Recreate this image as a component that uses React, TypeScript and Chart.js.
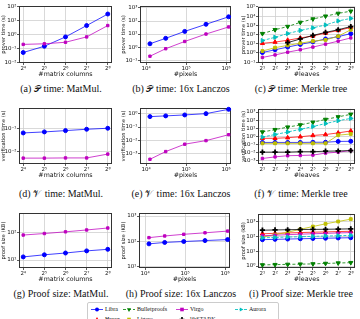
import React, { useEffect, useRef } from "react";
import { Chart, registerables } from "chart.js";
Chart.register(...registerables);

// ---------- categories / x values ----------
const matrixColumns = [16, 32, 64, 128, 256];
const lanczosPixels = [12544, 30976, 92416, 313600, 1149184];
const merkleLeaves = [2, 4, 8, 16, 32, 64, 128, 256];
const pixelTicks = [1e4, 1e5, 1e6];

// ---------- (a) prover time: MatMul ----------
const proverMatLibra = [0.05, 0.14, 0.65, 4.2, 28];
const proverMatVirgo = [0.19, 0.21, 0.27, 0.65, 4.2];
// ---------- (b) prover time: Lanczos ----------
const proverLanLibra = [1.8, 4.7, 16, 56, 210];
const proverLanVirgo = [0.2, 0.75, 2.7, 10, 35];
// ---------- (c) prover time: Merkle ----------
const proverMerLibra = [1.1, 2.2, 4.3, 8.4, 16, 33, 59, 125];
const proverMerHyrax = [11, 15, 24, 42, 70, 145, 280, 590];
const proverMerBullet = [126, 330, 750, 2100, 4900, 10000, 20000, 35000];
const proverMerLigero = [1.6, 3.7, 6.6, 11.5, 19, 26, 65, 330];
const proverMerVirgo = [0.32, 0.6, 1.2, 2.2, 4.3, 9, 19, 43];
const proverMerStark = [null, null, 13, 33, 80, 170, 330, 740];
const proverMerAurora = [22, 50, 126, 280, 540, 1100, 3000, 5700];
// ---------- (d) verification time: MatMul ----------
const verifMatLibra = [0.064, 0.071, 0.081, 0.093, 0.103];
const verifMatVirgo = [0.0049, 0.0049, 0.005, 0.005, 0.0074];
// ---------- (e) verification time: Lanczos ----------
const verifLanLibra = [0.6, 0.68, 0.8, 1.0, 2.1];
const verifLanVirgo = [0.0004, 0.0015, 0.0053, 0.0098, 0.027];
// ---------- (f) verification time: Merkle ----------
const verifMerLibra = [0.18, 0.18, 0.18, 0.18, 0.19, 0.19, 0.24, 0.25];
const verifMerHyrax = [0.58, 0.58, 0.69, 0.9, 1.3, 1.7, 2.7, 4.7];
const verifMerBullet = [3.5, 6.8, 14, 26, 55, 123, 255, 525];
const verifMerLigero = [0.14, 0.14, 0.14, 0.14, 0.14, 0.14, 1.4, 2.0];
const verifMerVirgo = [0.0019, 0.003, 0.0042, 0.0045, 0.005, 0.0087, 0.0115, 0.018];
const verifMerStark = [0.0115, 0.0115, 0.0115, 0.013, 0.013, 0.015, 0.016, 0.018];
const verifMerAurora = [0.83, 1.7, 3.5, 7.4, 16.5, 38, 86, 163];
// ---------- (g) proof size: MatMul ----------
const sizeMatLibra = [13, 15.5, 18, 21.5, 24.5];
const sizeMatVirgo = [81, 92, 106, 124, 146];
// ---------- (h) proof size: Lanczos ----------
const sizeLanLibra = [81, 92, 100, 109, 119];
const sizeLanVirgo = [142, 165, 192, 220, 257];
// ---------- (i) proof size: Merkle ----------
const sizeMerLibra = [60, 63, 66, 69, 72, 75, 78, 81];
const sizeMerHyrax = [150, 160, 170, 180, 190, 200, 210, 220];
const sizeMerBullet = [1.2, 1.25, 1.3, 1.35, 1.4, 1.5, 1.6, 1.7];
const sizeMerLigero = [90, 130, 190, 300, 460, 700, 1000, 1450];
const sizeMerVirgo = [110, 120, 130, 140, 150, 160, 170, 180];
const sizeMerStark = [260, 270, 280, 290, 295, 300, 310, 320];
const sizeMerAurora = [80, 85, 90, 95, 100, 105, 110, 117];

const systemNames = ["Libra", "Hyrax", "Bulletproofs", "Ligero", "Virgo", "libSTARK", "Aurora"];

const STYLE: Record<string, any> = {
  Libra: { color: "#0000ff", line: "rgba(0,0,255,0.75)", point: "circle", rot: 0, r: 2, dash: [] },
  Hyrax: { color: "#ff0000", line: "rgba(255,0,0,0.75)", point: "triangle", rot: 0, r: 2.4, dash: [] },
  Bulletproofs: { color: "#008000", line: "rgba(0,128,0,0.8)", point: "triangle", rot: 180, r: 2.4, dash: [3, 2] },
  Ligero: { color: "#bfbf00", line: "rgba(191,191,0,0.8)", point: "rect", rot: 0, r: 2, dash: [] },
  Virgo: { color: "#bf00bf", line: "rgba(191,0,191,0.75)", point: "rect", rot: 0, r: 1.7, dash: [] },
  libSTARK: { color: "#000000", line: "rgba(0,0,0,0.8)", point: "cross", rot: 0, r: 2.6, dash: [], pbw: 1.8 },
  Aurora: { color: "#00bfbf", line: "rgba(0,191,191,0.85)", point: "triangle", rot: 90, r: 2.4, dash: [3, 1.5] },
};

const SUP: Record<string, string> = {
  "0": "⁰", "1": "¹", "2": "²", "3": "³", "4": "⁴", "5": "⁵", "6": "⁶", "7": "⁷", "8": "⁸", "9": "⁹", "-": "⁻",
};
const sup = (n: number) => String(n).split("").map((c) => SUP[c]).join("");
const pow10 = (v: number) => "10" + sup(Math.round(Math.log10(v)));
const pow2 = (v: number) => "2" + sup(Math.round(Math.log2(v)));

const SANS = "'DejaVu Sans'";
const SERIF = "'Liberation Serif'";

interface Panel {
  key: string;
  cl: number;
  L: number; T: number; R: number; B: number;
  x: number[];
  xTicks: number[];
  xMin: number; xMax: number;
  xFmt: (v: number) => string;
  xTitle: string;
  yTitle: string;
  yLo: number; yHi: number;
  series: { name: string; values: (number | null)[] }[];
}

const matX = { x: matrixColumns, xTicks: matrixColumns, xMin: Math.pow(2, 3.8), xMax: Math.pow(2, 8.2), xFmt: pow2, xTitle: "#matrix columns" };
const lanX = { x: lanczosPixels, xTicks: pixelTicks, xMin: Math.pow(10, 3.85), xMax: Math.pow(10, 6.12), xFmt: pow10, xTitle: "#pixels" };
const merX = { x: merkleLeaves, xTicks: merkleLeaves, xMin: Math.pow(2, 0.65), xMax: Math.pow(2, 8.35), xFmt: pow2, xTitle: "#leaves" };

const two = (l: number[], v: number[]) => [
  { name: "Libra", values: l },
  { name: "Virgo", values: v },
];
const seven = (a: any[]) => systemNames.map((n, i) => ({ name: n, values: a[i] }));

const PANELS: Panel[] = [
  { key: "a", cl: 0, L: 19, T: 5, R: 113, B: 63, ...matX, yTitle: "prover time (s)", yLo: -2.05, yHi: 2.02, series: two(proverMatLibra, proverMatVirgo) },
  { key: "b", cl: 120, L: 140, T: 5, R: 232, B: 63, ...lanX, yTitle: "prover time (s)", yLo: -1.22, yHi: 3.15, series: two(proverLanLibra, proverLanVirgo) },
  { key: "c", cl: 240, L: 258, T: 5, R: 357, B: 63, ...merX, yTitle: "prover time (s)", yLo: -1.1, yHi: 5.02,
    series: seven([proverMerLibra, proverMerHyrax, proverMerBullet, proverMerLigero, proverMerVirgo, proverMerStark, proverMerAurora]) },
  { key: "d", cl: 0, L: 19, T: 107, R: 113, B: 164, ...matX, yTitle: "verification time (s)", yLo: -2.57, yHi: -0.09, series: two(verifMatLibra, verifMatVirgo) },
  { key: "e", cl: 120, L: 140, T: 107, R: 232, B: 164, ...lanX, yTitle: "verification time (s)", yLo: -3.75, yHi: 0.42, series: two(verifLanLibra, verifLanVirgo) },
  { key: "f", cl: 240, L: 258, T: 107, R: 357, B: 164, ...merX, yTitle: "verification time (s)", yLo: -3.4, yHi: 3.4,
    series: seven([verifMerLibra, verifMerHyrax, verifMerBullet, verifMerLigero, verifMerVirgo, verifMerStark, verifMerAurora]) },
  { key: "g", cl: 0, L: 19, T: 212, R: 113, B: 268, ...matX, yTitle: "proof size (KB)", yLo: 0.71, yHi: 2.71, series: two(sizeMatLibra, sizeMatVirgo) },
  { key: "h", cl: 120, L: 139, T: 212, R: 231, B: 268, ...lanX, yTitle: "proof size (KB)", yLo: 0.96, yHi: 3.12, series: two(sizeLanLibra, sizeLanVirgo) },
  { key: "i", cl: 240, L: 258, T: 212, R: 357, B: 268, ...merX, yTitle: "proof size (kB)", yLo: -0.13, yHi: 3.52,
    series: seven([sizeMerLibra, sizeMerHyrax, sizeMerBullet, sizeMerLigero, sizeMerVirgo, sizeMerStark, sizeMerAurora]) },
];

const CAPTIONS = [
  { cx: 61, cy: 89, pre: "(a) ", sym: "𝒫", post: " time: MatMul." },
  { cx: 181, cy: 89, pre: "(b) ", sym: "𝒫", post: " time: 16x Lanczos" },
  { cx: 301, cy: 89, pre: "(c) ", sym: "𝒫", post: " time: Merkle tree" },
  { cx: 61, cy: 194, pre: "(d) ", sym: "𝒱", post: " time: MatMul." },
  { cx: 181, cy: 194, pre: "(e) ", sym: "𝒱", post: " time: 16x Lanczos" },
  { cx: 301, cy: 194, pre: "(f) ", sym: "𝒱", post: " time: Merkle tree" },
  { cx: 61, cy: 294, pre: "(g) Proof size: MatMul.", sym: "", post: "" },
  { cx: 181, cy: 294, pre: "(h) Proof size: 16x Lanczos", sym: "", post: "" },
  { cx: 301, cy: 294, pre: "(i) Proof size: Merkle tree", sym: "", post: "" },
];

const PAD_T = 4;
const PAD_R = 4;
const X_H = 15;

const boxPlugin = {
  id: "box",
  beforeDatasetsDraw(chart: any) {
    const { ctx, chartArea } = chart;
    const { left, top, right, bottom } = chartArea;
    ctx.save();
    ctx.strokeStyle = "#333";
    ctx.lineWidth = 1;
    ctx.strokeRect(Math.round(left) + 0.5, Math.round(top) + 0.5, Math.round(right - left) - 1, Math.round(bottom - top) - 1);
    ctx.restore();
  },
};

function PanelChart({ p }: { p: Panel }) {
  const ref = useRef<HTMLCanvasElement>(null);
  const w = p.R + PAD_R - p.cl;
  const h = PAD_T + (p.B - p.T) + X_H;
  useEffect(() => {
    const n = p.series.length;
    const datasets = p.series.map((s, i) => {
      const st = STYLE[s.name];
      return {
        label: s.name,
        data: p.x.map((xv, j) => ({ x: xv, y: s.values[j] })),
        borderColor: st.line,
        backgroundColor: st.color,
        pointBackgroundColor: st.color,
        pointBorderColor: st.color,
        pointStyle: st.point,
        pointRotation: st.rot,
        pointRadius: st.r,
        pointBorderWidth: st.pbw || 1,
        borderWidth: 1,
        borderDash: st.dash,
        tension: 0,
        clip: false,
        order: n - i,
      };
    });
    const yTicks: number[] = [];
    for (let e = Math.ceil(p.yLo); e <= Math.floor(p.yHi); e++) yTicks.push(Math.pow(10, e));
    const tickFont = { family: SANS, size: 5.5 };
    const grid = { color: "#cfcfcf", lineWidth: 0.8, tickLength: 2, tickColor: "#333", drawTicks: true };
    const chart = new Chart(ref.current!, {
      type: "line",
      data: { datasets } as any,
      plugins: [boxPlugin],
      options: {
        responsive: false,
        animation: false,
        devicePixelRatio: 1,
        layout: { padding: { left: 0, top: PAD_T, right: PAD_R, bottom: 0 } },
        plugins: { legend: { display: false }, tooltip: { enabled: false } },
        scales: {
          x: {
            type: "logarithmic",
            min: p.xMin,
            max: p.xMax,
            bounds: "data",
            afterBuildTicks: (s: any) => {
              s.ticks = p.xTicks.map((v) => ({ value: v }));
            },
            afterFit: (s: any) => {
              s.height = X_H;
            },
            ticks: {
              callback: (v: any) => p.xFmt(Number(v)),
              font: tickFont,
              color: "#111",
              padding: 0,
              autoSkip: false,
              maxRotation: 0,
              minRotation: 0,
            },
            grid,
            border: { display: false },
            title: { display: true, text: p.xTitle, font: { family: SANS, size: 6.3 }, color: "#111", padding: { top: 0, bottom: 0 } },
          },
          y: {
            type: "logarithmic",
            min: Math.pow(10, p.yLo),
            max: Math.pow(10, p.yHi),
            bounds: "data",
            afterBuildTicks: (s: any) => {
              s.ticks = yTicks.map((v) => ({ value: v }));
            },
            afterFit: (s: any) => {
              s.width = p.L - p.cl;
            },
            ticks: {
              callback: (v: any) => pow10(Number(v)),
              font: tickFont,
              color: "#111",
              padding: 0.5,
              autoSkip: false,
            },
            grid,
            border: { display: false },
            title: { display: true, text: p.yTitle, font: { family: SANS, size: 5.2 }, color: "#111", padding: { top: 0.3, bottom: 0 } },
          },
        },
      } as any,
    });
    return () => chart.destroy();
  }, []);
  return <canvas ref={ref} width={w} height={h} style={{ position: "absolute", left: p.cl, top: p.T - PAD_T, width: w, height: h }} />;
}

function Marker({ name }: { name: string }) {
  const st = STYLE[name];
  const c = st.color;
  const cx = 6, cy = 3.5;
  let m: any = null;
  if (st.point === "circle") m = <circle cx={cx} cy={cy} r={2} fill={c} />;
  else if (st.point === "rect") m = <rect x={cx - 1.8} y={cy - 1.8} width={3.6} height={3.6} fill={c} />;
  else if (st.point === "cross") m = <path d={`M${cx - 2.5} ${cy}H${cx + 2.5}M${cx} ${cy - 2.5}V${cy + 2.5}`} stroke={c} strokeWidth={1.6} />;
  else if (st.point === "triangle") {
    const r = 2.4;
    const pts = [0, 120, 240].map((a) => {
      const ang = ((a + st.rot) * Math.PI) / 180;
      return `${cx + r * Math.sin(ang)},${cy - r * Math.cos(ang)}`;
    });
    m = <polygon points={pts.join(" ")} fill={c} />;
  }
  return (
    <svg width={12} height={7} style={{ position: "absolute", left: 0, top: 0 }}>
      <line x1={0} y1={cy} x2={12} y2={cy} stroke={st.line} strokeWidth={1} strokeDasharray={st.dash.length ? st.dash.join(",") : undefined} />
      {m}
    </svg>
  );
}

const LEGEND_COLS = [3, 35, 88, 147];
const LEGEND_ROWS = [3, 13];
const LEGEND_ITEMS = [
  { name: "Libra", col: 0, row: 0 },
  { name: "Hyrax", col: 0, row: 1 },
  { name: "Bulletproofs", col: 1, row: 0 },
  { name: "Ligero", col: 1, row: 1 },
  { name: "Virgo", col: 2, row: 0 },
  { name: "libSTARK", col: 2, row: 1 },
  { name: "Aurora", col: 3, row: 0 },
];

export default function App() {
  return (
    <div style={{ position: "fixed", left: 0, top: 0, width: 360, height: 319, background: "#fff", overflow: "hidden" }}>
      {PANELS.map((p) => (
        <PanelChart key={p.key} p={p} />
      ))}
      {CAPTIONS.map((c, i) => (
        <div
          key={i}
          style={{
            position: "absolute",
            left: c.cx - 70,
            width: 140,
            top: c.cy - 6,
            height: 12,
            lineHeight: "12px",
            textAlign: "center",
            fontFamily: SERIF,
            fontSize: 10,
            whiteSpace: "nowrap",
            color: "#111",
          }}
        >
          {c.pre}
          {c.sym ? <span style={{ fontSize: 9, paddingRight: 1 }}>{c.sym}</span> : null}
          {c.post}
        </div>
      ))}
      <div
        style={{
          position: "absolute",
          left: 87,
          top: 302,
          width: 192,
          height: 30,
          border: "1px solid #cccccc",
          borderRadius: 2,
          boxSizing: "border-box",
        }}
      >
        {LEGEND_ITEMS.map((it) => (
          <div key={it.name} style={{ position: "absolute", left: LEGEND_COLS[it.col], top: LEGEND_ROWS[it.row], height: 7 }}>
            <Marker name={it.name} />
            <span
              style={{
                position: "absolute",
                left: 14,
                top: -1,
                fontFamily: SERIF,
                fontSize: 6,
                lineHeight: "9px",
                whiteSpace: "nowrap",
                color: "#111",
              }}
            >
              {it.name}
            </span>
          </div>
        ))}
      </div>
    </div>
  );
}
